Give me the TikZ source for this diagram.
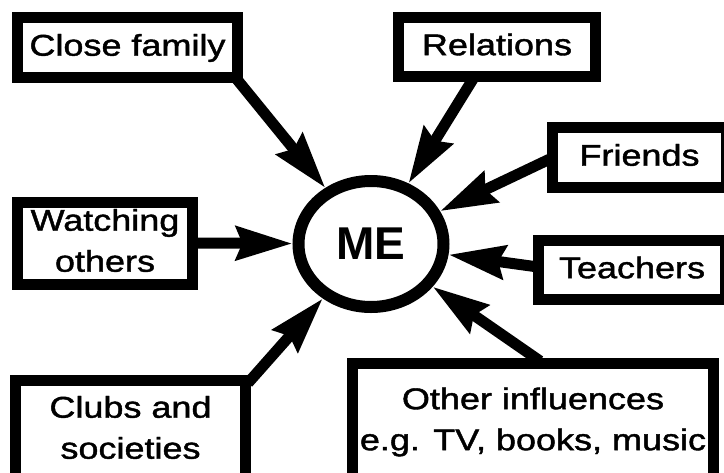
\documentclass[tikz,border=0pt]{standalone}
\usepackage{fontspec}
\setmainfont{Liberation Sans}
\newfontfamily\lblfont[FakeBold=1.3]{Liberation Sans}
\usetikzlibrary{shapes.geometric,arrows.meta,calc}
\newcommand{\lbl}[1]{\scalebox{1.2}[1]{\lblfont\fontsize{30}{41}\selectfont\begin{tabular}{@{}c@{}}#1\end{tabular}}}
\begin{document}
\begin{tikzpicture}[x=1pt,y=-1pt,
  boxnode/.style={draw,line width=11pt,rectangle,inner sep=0pt,fill=white},
  menode/.style={draw,line width=12pt,ellipse,inner sep=0pt,minimum width=145pt,minimum height=126pt,font=\bfseries\fontsize{46}{50}\selectfont},
  inflarrow/.style={line width=11pt,-{Stealth[length=56pt,width=33pt,inset=6pt]}}]
\useasboundingbox (0,0) rectangle (724,472);
\clip (0,0) rectangle (724,472);
\fill[white] (0,0) rectangle (724,472);
\node[menode] (me) at (371,244) {ME};
\node[boxnode,minimum width=220pt,minimum height=60pt] (cf) at (127.5,47.5) {\lbl{Close family}};
\node[boxnode,minimum width=197pt,minimum height=59pt] (rel) at (497,47) {\lbl{Relations}};
\node[boxnode,minimum width=174pt,minimum height=60pt] (fr) at (639.5,157.5) {\lbl{Friends}};
\node[boxnode,minimum width=187pt,minimum height=59pt] (te) at (632,270) {\lbl{Teachers}};
\node[boxnode,minimum width=175pt,minimum height=81pt] (wo) at (105,243) {\lbl{Watching\\others}};
\node[boxnode,minimum width=230pt,minimum height=99pt] (cl) at (130.5,430) {\lbl{Clubs and\\societies}};
\node[boxnode,minimum width=361pt,minimum height=116pt] (oi) at (533,421.5) {\lbl{Other influences\\e.g. TV, books, music}};
\draw[inflarrow] ($(cf.south east)+(-8,-6)$) -- (me);
\draw[inflarrow] ($(rel.south)+(-24,-3)$) -- (me);
\draw[inflarrow] ($(fr.west)+(6,0)$) -- (me);
\draw[inflarrow] ($(te.west)+(5,-3)$) -- (me);
\draw[inflarrow] (wo.east) -- (me);
\draw[inflarrow] ($(cl.north east)+(-3,8)$) -- (me);
\draw[inflarrow] ($(oi.north)+(7,3)$) -- (me);
\end{tikzpicture}
\end{document}
